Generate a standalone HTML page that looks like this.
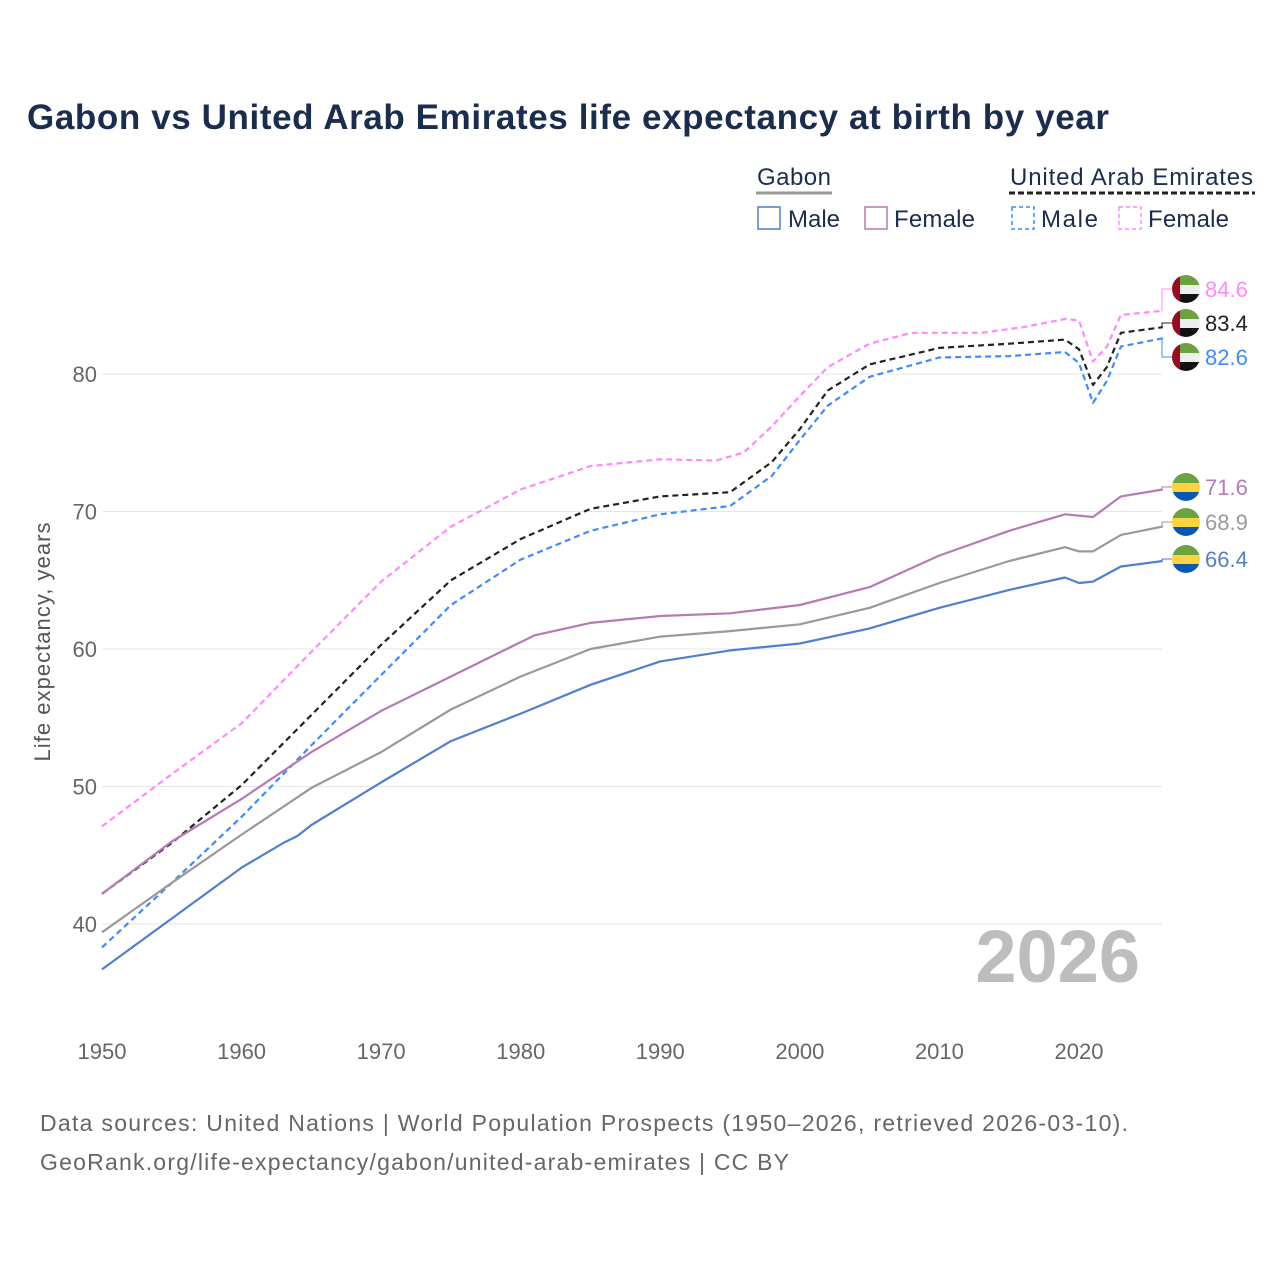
<!DOCTYPE html>
<html><head><meta charset="utf-8"><style>
body{margin:0;background:#fff;}
svg text{font-family:"Liberation Sans",sans-serif;}
</style></head><body>
<svg id="chart" width="1280" height="1280" viewBox="0 0 1280 1280" xmlns="http://www.w3.org/2000/svg">
<rect width="1280" height="1280" fill="#fff"/>
<text x="27" y="129" font-size="35" font-weight="bold" fill="#1b2d4f" textLength="1082" lengthAdjust="spacing">Gabon vs United Arab Emirates life expectancy at birth by year</text>
<g font-size="24" fill="#1b2d4f">
<text x="757" y="185" fill="#1b2d4f" textLength="74" lengthAdjust="spacing">Gabon</text>
<line x1="756" y1="193" x2="832" y2="193" stroke="#999" stroke-width="3"/>
<text x="1010" y="185" fill="#1b2d4f" textLength="243" lengthAdjust="spacing">United Arab Emirates</text>
<line x1="1009" y1="193" x2="1255" y2="193" stroke="#222" stroke-width="3" stroke-dasharray="6,3"/>
<g><rect x="758" y="207" width="22" height="22" fill="none" stroke="#4f7fcf" stroke-width="1.5"/><text x="788" y="227">Male</text></g>
<g><rect x="865" y="207" width="22" height="22" fill="none" stroke="#b57ab5" stroke-width="1.5"/><text x="894" y="227" textLength="81" lengthAdjust="spacing">Female</text></g>
<g><rect x="1012" y="207" width="22" height="22" fill="none" stroke="#3d8bff" stroke-width="1.5" stroke-dasharray="4,3"/><text x="1041" y="227" textLength="57" lengthAdjust="spacing">Male</text></g>
<g><rect x="1119" y="207" width="22" height="22" fill="none" stroke="#ff88ff" stroke-width="1.5" stroke-dasharray="4,3"/><text x="1148" y="227" textLength="81" lengthAdjust="spacing">Female</text></g>
</g>
<text transform="translate(50,642) rotate(-90)" text-anchor="middle" font-size="22" fill="#555" textLength="239" lengthAdjust="spacing">Life expectancy, years</text>
<g id="grid"></g><g id="series"></g><g id="ends"></g>
<text x="1140" y="982" text-anchor="end" font-size="74" font-weight="bold" fill="#bdbdbd">2026</text>
<text x="40" y="1131" font-size="23" fill="#666" textLength="1088" lengthAdjust="spacing">Data sources: United Nations | World Population Prospects (1950–2026, retrieved 2026-03-10).</text>
<text x="40" y="1170" font-size="23" fill="#666" textLength="749" lengthAdjust="spacing">GeoRank.org/life-expectancy/gabon/united-arab-emirates | CC BY</text>
</svg>
<script>
const yTicks=[40,50,60,70,80];
const xTicks=[1950,1960,1970,1980,1990,2000,2010,2020];
const gmYears=[1950,1955,1960,1963,1964,1965,1970,1975,1980,1985,1990,1995,2000,2005,2010,2015,2019,2020,2021,2023,2026];
const gmVals=[36.7,40.4,44.1,45.9,46.4,47.2,50.3,53.3,55.3,57.4,59.1,59.9,60.4,61.5,63.0,64.3,65.2,64.8,64.9,66.0,66.4];
const gbYears=[1950,1955,1960,1965,1970,1975,1980,1985,1990,1995,2000,2005,2010,2015,2019,2020,2021,2023,2026];
const gbVals=[39.4,43.0,46.5,49.9,52.5,55.6,58.0,60.0,60.9,61.3,61.8,63.0,64.8,66.4,67.4,67.1,67.1,68.3,68.9];
const gfYears=[1950,1955,1960,1965,1970,1975,1980,1981,1985,1990,1995,2000,2005,2010,2015,2019,2021,2023,2026];
const gfVals=[42.2,46.0,49.1,52.5,55.5,58.0,60.5,61.0,61.9,62.4,62.6,63.2,64.5,66.8,68.6,69.8,69.6,71.1,71.6];
const ubYears=[1950,1955,1960,1965,1970,1975,1980,1985,1990,1995,1998,2000,2002,2005,2010,2015,2019,2020,2021,2022,2023,2026];
const ubVals=[42.2,45.9,50.1,55.2,60.3,65.0,68.0,70.2,71.1,71.4,73.6,76.0,78.8,80.7,81.9,82.2,82.5,81.8,79.2,80.5,83.0,83.4];
const umYears=[1950,1955,1960,1965,1970,1975,1980,1985,1990,1995,1998,2000,2002,2005,2010,2015,2019,2020,2021,2022,2023,2026];
const umVals=[38.3,43.0,47.8,53.0,58.1,63.2,66.5,68.6,69.8,70.4,72.6,75.2,77.7,79.8,81.2,81.3,81.6,80.8,77.9,79.5,82.0,82.6];
const ufYears=[1950,1955,1960,1965,1970,1975,1980,1985,1990,1994,1996,1998,2000,2002,2005,2008,2010,2013,2016,2019,2020,2021,2022,2023,2026];
const ufVals=[47.1,50.9,54.6,59.8,64.9,68.9,71.6,73.3,73.8,73.7,74.3,76.2,78.4,80.5,82.2,83.0,83.0,83.0,83.4,84.0,83.9,80.9,82.0,84.3,84.6];
const endLabels=["84.6","83.4","82.6","71.6","68.9","66.4"];

const NS="http://www.w3.org/2000/svg";
const X=y=>102+(y-1950)*(1079-102)/70;
const Y=v=>374+(80-v)*13.75;
function mk(t,a,p){const e=document.createElementNS(NS,t);for(const k in a)e.setAttribute(k,a[k]);p.appendChild(e);return e;}
const grid=document.getElementById('grid');
yTicks.forEach(v=>{
 const l=mk('line',{x1:102,x2:1162,y1:Y(v),y2:Y(v),stroke:'#e6e6e6','stroke-width':1},grid);
 
 
 const t=mk('text',{x:97,y:Y(v)+8,'text-anchor':'end','font-size':22,fill:'#666'},grid);t.textContent=v;
 
 
});
xTicks.forEach(v=>{
 const t=mk('text',{x:X(v),y:1059,'text-anchor':'middle','font-size':22,fill:'#666'},grid);t.textContent=v;
 
 
});
const ser=document.getElementById('series');
const defs=[
 [ufYears,ufVals,'#ff88ff','6,4','series-uae-female'],
 [ubYears,ubVals,'#222','6,4','series-uae-both'],
 [umYears,umVals,'#3d8bff','6,4','series-uae-male'],
 [gfYears,gfVals,'#b57ab5','','series-gabon-female'],
 [gbYears,gbVals,'#999','','series-gabon-both'],
 [gmYears,gmVals,'#4f7fcf','','series-gabon-male']];
const labelY=[289,323,357,487,522,559];
const ends=document.getElementById('ends');
defs.forEach((d,i)=>{
 const pts=d[0].map((y,j)=>X(y).toFixed(1)+','+Y(d[1][j]).toFixed(1)).join(' ');
 const p=mk('polyline',{points:pts,fill:'none',stroke:d[2],'stroke-width':2.2,'stroke-dasharray':d[3],'stroke-linejoin':'round'},ser);
 
 
 const ex=X(d[0][d[0].length-1]),ey=Y(d[1][d[1].length-1]),ly=labelY[i];
 mk('polyline',{points:`${ex},${ey} 1162,${ey} 1162,${ly} 1172,${ly}`,fill:'none',stroke:d[2],'stroke-width':1},ends);
 const g=mk('g',{},ends);
 
 
 const cid='c'+i;
 const cp=mk('clipPath',{id:cid},g);mk('circle',{cx:1186,cy:ly,r:14},cp);
 const fg=mk('g',{'clip-path':`url(#${cid})`},g);
 if(i<3){
  mk('rect',{x:1172,y:ly-14,width:28,height:10,fill:'#6aa23f'},fg);
  mk('rect',{x:1172,y:ly-4,width:28,height:9,fill:'#eee'},fg);
  mk('rect',{x:1172,y:ly+5,width:28,height:10,fill:'#111'},fg);
  mk('rect',{x:1172,y:ly-14,width:8,height:28,fill:'#9b0a23'},fg);
 }else{
  mk('rect',{x:1172,y:ly-14,width:28,height:10,fill:'#6aa23f'},fg);
  mk('rect',{x:1172,y:ly-4,width:28,height:9,fill:'#fdd33f'},fg);
  mk('rect',{x:1172,y:ly+5,width:28,height:10,fill:'#0a56b3'},fg);
 }
 const t=mk('text',{x:1205,y:ly+8,'font-size':22,fill:d[2]},ends);t.textContent=endLabels[i];
 
 
});
</script>
</body></html>
